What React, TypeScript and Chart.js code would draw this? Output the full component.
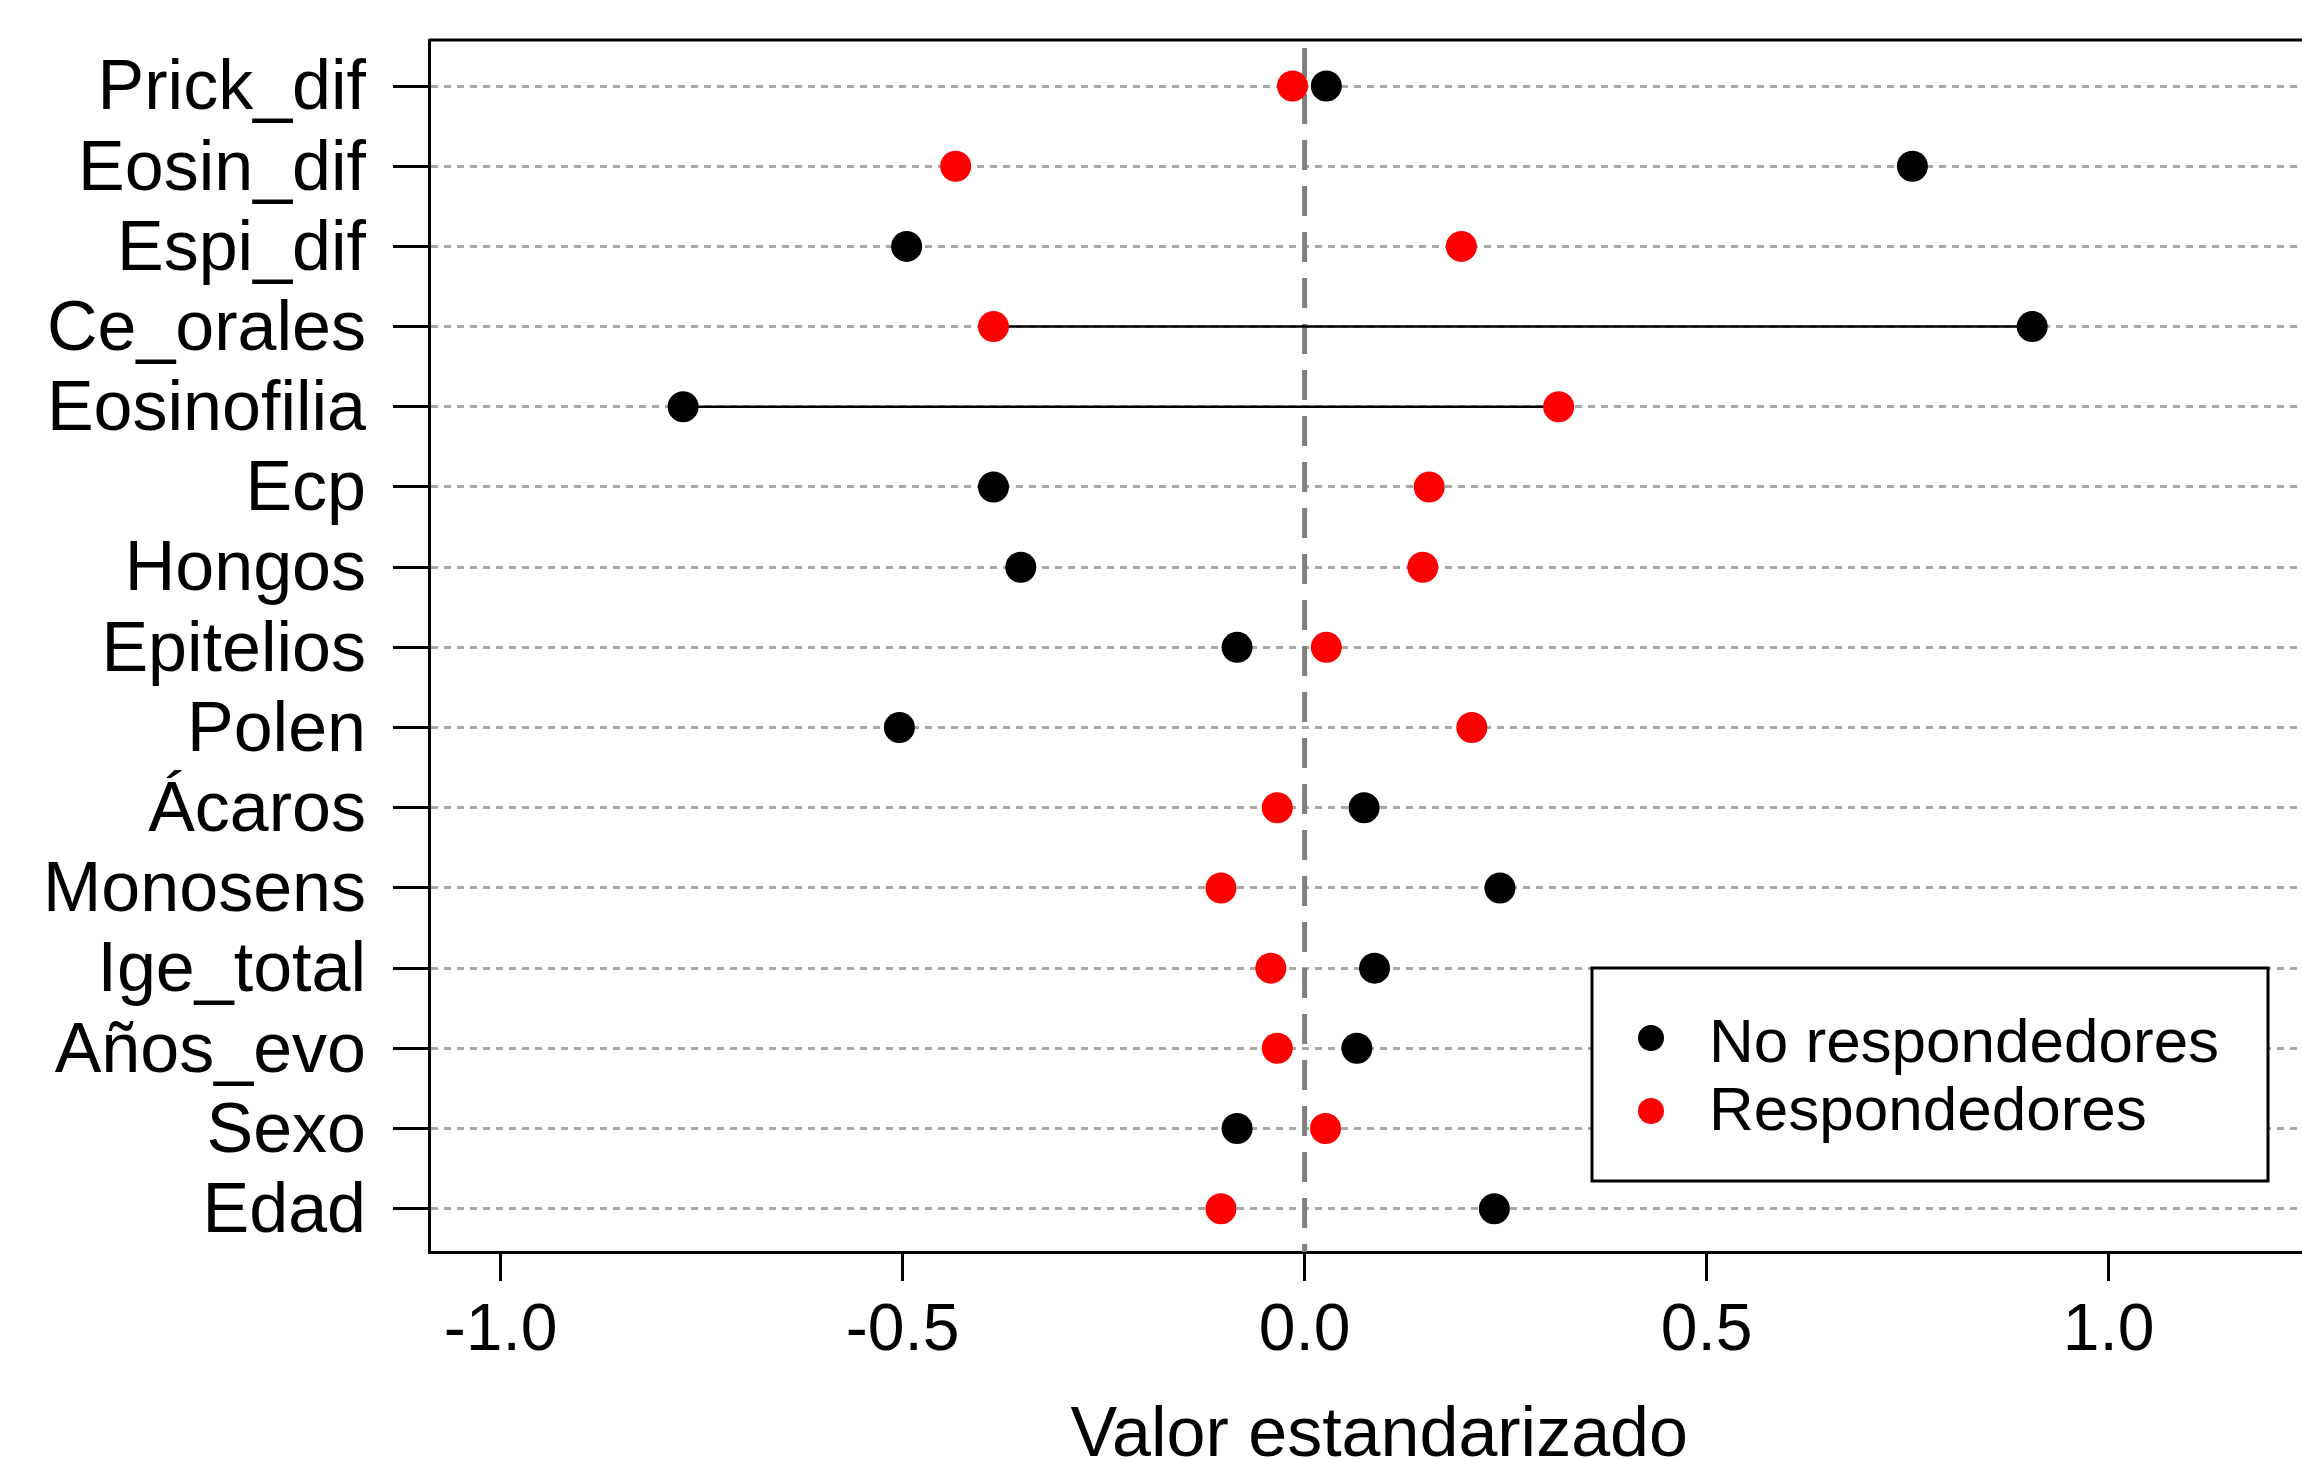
import React, { useEffect, useRef } from "react";
import { Chart, registerables } from "chart.js";

Chart.register(...registerables);

// ---- data ----
const categories = [
  "Prick_dif", "Eosin_dif", "Espi_dif", "Ce_orales", "Eosinofilia", "Ecp", "Hongos",
  "Epitelios", "Polen", "Ácaros", "Monosens", "Ige_total", "Años_evo", "Sexo", "Edad",
];
const noRespondedores = [
  0.027, 0.756, -0.495, 0.905, -0.773, -0.387, -0.353,
  -0.084, -0.504, 0.074, 0.243, 0.087, 0.065, -0.084, 0.236,
];
const respondedores = [
  -0.015, -0.434, 0.195, -0.387, 0.316, 0.155, 0.147,
  0.027, 0.208, -0.034, -0.104, -0.042, -0.034, 0.026, -0.104,
];
const connectedCategories = ["Ce_orales", "Eosinofilia"];
const xTickValues = [-1.0, -0.5, 0.0, 0.5, 1.0];
const seriesLabels = ["No respondedores", "Respondedores"];
const seriesColors = ["#000000", "#ff0000"];
const referenceValue = 0;
const xRange = [-1.0891, 1.2748];
const yRange = [0.46, 15.574];
const xTitle = "Valor estandarizado";

const FONT = "'Liberation Sans', Arial, Helvetica, sans-serif";
const W = 2345;
const H = 1500;

const n = categories.length;
const rowValue = (i: number) => n - i;

const framePlugin = {
  id: "frameTop",
  beforeDatasetsDraw(chart: any) {
    const { ctx, chartArea } = chart;
    ctx.save();
    ctx.strokeStyle = "#000";
    ctx.lineWidth = 3;
    ctx.beginPath();
    ctx.moveTo(chartArea.left, chartArea.top);
    ctx.lineTo(chartArea.right, chartArea.top);
    ctx.lineTo(chartArea.right, chartArea.bottom);
    ctx.stroke();
    ctx.restore();
  },
};

const boxLegendPlugin = {
  id: "boxLegend",
  afterDraw(chart: any) {
    const { ctx } = chart;
    const bx = 1592, by = 968, bw = 676, bh = 213;
    ctx.save();
    ctx.fillStyle = "#fff";
    ctx.fillRect(bx, by, bw, bh);
    ctx.strokeStyle = "#000";
    ctx.lineWidth = 3;
    ctx.strokeRect(bx, by, bw, bh);
    const items = chart.data.datasets.filter((d: any) => d.isSeries);
    ctx.font = `62px ${FONT}`;
    ctx.textBaseline = "middle";
    ctx.textAlign = "left";
    items.forEach((d: any, k: number) => {
      const dotY = 1038 + k * 73;
      const textY = 1045 + k * 68;
      ctx.fillStyle = d.backgroundColor;
      ctx.beginPath();
      ctx.arc(1651, dotY, 13, 0, Math.PI * 2);
      ctx.fill();
      ctx.fillStyle = "#000";
      ctx.fillText(d.label, 1709, textY);
    });
    ctx.restore();
  },
};

export default function App() {
  const ref = useRef<HTMLCanvasElement | null>(null);

  useEffect(() => {
    if (!ref.current) return;
    Chart.defaults.color = "#000";
    Chart.defaults.font.family = FONT;

    const seriesData = [noRespondedores, respondedores];
    const seriesDatasets = seriesData.map((vals, s) => ({
      type: "scatter" as const,
      label: seriesLabels[s],
      isSeries: true,
      data: vals.map((v, i) => ({ x: v, y: rowValue(i) })),
      backgroundColor: seriesColors[s],
      borderColor: seriesColors[s],
      borderWidth: 0,
      pointRadius: 15.5,
      pointHoverRadius: 15.5,
      pointStyle: "circle",
      order: 0,
    }));

    const segmentDatasets = connectedCategories.map((c) => {
      const i = categories.indexOf(c);
      return {
        type: "line" as const,
        label: "seg-" + c,
        data: [
          { x: noRespondedores[i], y: rowValue(i) },
          { x: respondedores[i], y: rowValue(i) },
        ],
        borderColor: "#000",
        borderWidth: 2.5,
        pointRadius: 0,
        fill: false,
        order: 1,
      };
    });

    const zeroLine = {
      type: "line" as const,
      label: "ref",
      data: [
        { x: referenceValue, y: yRange[1] },
        { x: referenceValue, y: yRange[0] },
      ],
      borderColor: "#808080",
      borderWidth: 5,
      borderDash: [30, 16],
      borderDashOffset: -8,
      pointRadius: 0,
      fill: false,
      order: 2,
    };

    const chart = new Chart(ref.current, {
      type: "scatter",
      data: { datasets: [zeroLine, ...segmentDatasets, ...seriesDatasets] as any },
      options: {
        animation: false,
        responsive: false,
        devicePixelRatio: 1,
        events: [],
        layout: { padding: { top: 40, right: 6, left: 0, bottom: 0 } },
        plugins: { legend: { display: false }, tooltip: { enabled: false } },
        scales: {
          x: {
            type: "linear",
            min: xRange[0],
            max: xRange[1],
            afterBuildTicks: (scale: any) => {
              scale.ticks = xTickValues.map((v) => ({ value: v }));
            },
            afterFit: (scale: any) => {
              scale.height = H - 1252;
              scale.paddingLeft = 0;
              scale.paddingRight = 0;
            },
            ticks: {
              autoSkip: false,
              maxRotation: 0,
              padding: 18,
              color: "#000",
              font: { size: 66, family: FONT, lineHeight: 1 },
              callback: (v: any) => Number(v).toFixed(1),
            },
            grid: {
              drawOnChartArea: false,
              drawTicks: true,
              tickLength: 29,
              tickColor: "#000",
              tickWidth: 3,
              color: "#000",
            },
            border: { display: true, color: "#000", width: 3 },
            title: {
              display: true,
              text: xTitle,
              color: "#000",
              font: { size: 70, family: FONT, lineHeight: 1 },
              padding: { top: 0, bottom: 28 },
            },
          },
          y: {
            type: "linear",
            min: yRange[0],
            max: yRange[1],
            afterBuildTicks: (scale: any) => {
              scale.ticks = categories.map((_, i) => ({ value: rowValue(i) }));
            },
            afterFit: (scale: any) => {
              scale.width = 429;
              scale.paddingTop = 0;
              scale.paddingBottom = 0;
            },
            ticks: {
              autoSkip: false,
              padding: 27,
              labelOffset: 4,
              color: "#000",
              font: { size: 70, family: FONT, lineHeight: 1 },
              callback: (v: any) => categories[n - Math.round(Number(v))],
            },
            grid: {
              drawOnChartArea: true,
              drawTicks: true,
              tickLength: 36,
              tickColor: "#000",
              tickWidth: 3,
              tickBorderDash: [],
              color: "#a8a8a8",
              lineWidth: 3,
            },
            border: { display: true, color: "#000", width: 3, dash: [7, 6] },
          },
        },
      } as any,
      plugins: [framePlugin, boxLegendPlugin],
    });

    return () => chart.destroy();
  }, []);

  return (
    <div
      style={{
        position: "fixed",
        left: 0,
        top: 0,
        width: 2302,
        height: 1459,
        overflow: "hidden",
        background: "#fff",
      }}
    >
      <canvas ref={ref} width={W} height={H} style={{ width: W, height: H, display: "block" }} />
    </div>
  );
}
